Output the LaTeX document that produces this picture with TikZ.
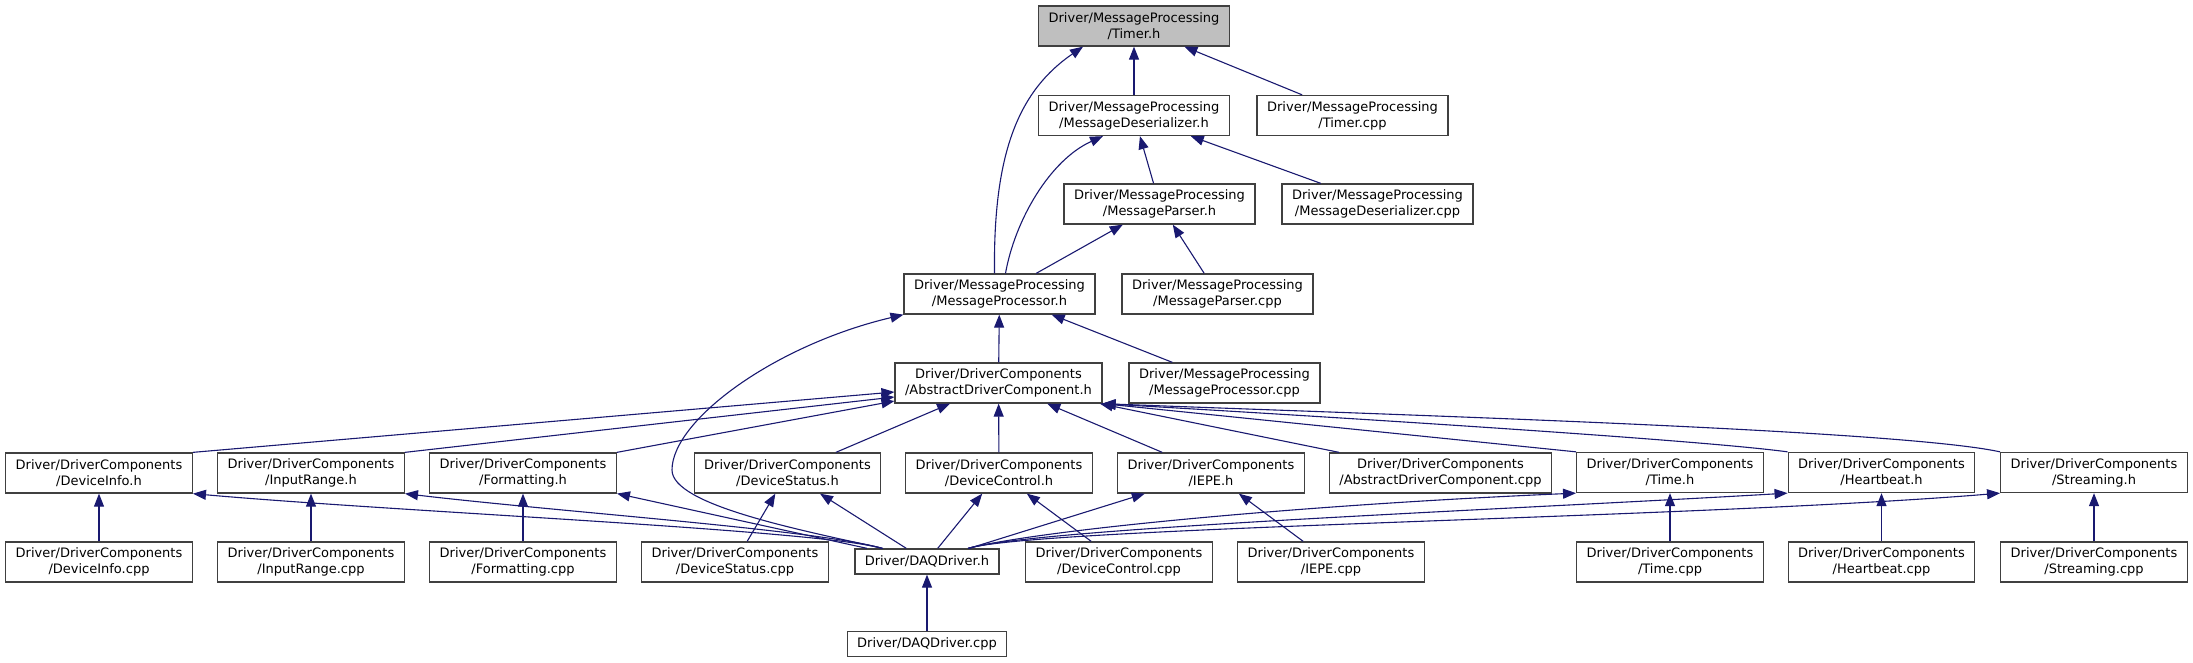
\documentclass[tikz,border=0pt]{standalone}
\usepackage{fontspec}
\setmainfont{DejaVu Sans}
\usepackage{xcolor}
\usepackage{tikz}
\usetikzlibrary{arrows.meta,calc}
\definecolor{edgeblue}{HTML}{191970}
\definecolor{curgray}{HTML}{BFBFBF}

\begin{document}
\begin{tikzpicture}[
  x=1pt, y=1pt,
  font=\fontsize{13}{16}\selectfont,
  file/.style={draw=black!75, line width=1.3pt, minimum height=40pt, inner xsep=10pt, inner ysep=2pt, align=center, fill=white},
  cur/.style={file, fill=curgray},
  flat/.style={file, minimum height=25pt},
  inc/.style={draw=edgeblue, line width=1.1pt, -{Triangle[length=13pt,width=10pt]}}
]
\useasboundingbox (0,0) rectangle (2193,-663);

% MessageProcessing
\node[cur]  (tmrh)    at (1134,-26)    {Driver/MessageProcessing\\/Timer.h};
\node[file] (desh)    at (1134,-115.5) {Driver/MessageProcessing\\/MessageDeserializer.h};
\node[file] (tmrcpp)  at (1352.5,-115.5) {Driver/MessageProcessing\\/Timer.cpp};
\node[file] (parh)    at (1159.5,-204) {Driver/MessageProcessing\\/MessageParser.h};
\node[file] (descpp)  at (1377.5,-204) {Driver/MessageProcessing\\/MessageDeserializer.cpp};
\node[file] (proch)   at (999.5,-294)  {Driver/MessageProcessing\\/MessageProcessor.h};
\node[file] (parcpp)  at (1217.5,-294) {Driver/MessageProcessing\\/MessageParser.cpp};
\node[file] (adch)    at (998.5,-383)  {Driver/DriverComponents\\/AbstractDriverComponent.h};
\node[file] (proccpp) at (1224.5,-383) {Driver/MessageProcessing\\/MessageProcessor.cpp};

% DriverComponents headers
\node[file] (infoh)  at (99,-473)     {Driver/DriverComponents\\/DeviceInfo.h};
\node[file] (rngh)   at (311,-473)    {Driver/DriverComponents\\/InputRange.h};
\node[file] (fmth)   at (523,-473)    {Driver/DriverComponents\\/Formatting.h};
\node[file] (stath)  at (787.5,-473)  {Driver/DriverComponents\\/DeviceStatus.h};
\node[file] (ctlh)   at (999,-473)    {Driver/DriverComponents\\/DeviceControl.h};
\node[file] (iepeh)  at (1211,-473)   {Driver/DriverComponents\\/IEPE.h};
\node[file] (adccpp) at (1440.5,-473) {Driver/DriverComponents\\/AbstractDriverComponent.cpp};
\node[file] (timeh)  at (1670,-472.5) {Driver/DriverComponents\\/Time.h};
\node[file] (hbh)    at (1881.5,-472.5) {Driver/DriverComponents\\/Heartbeat.h};
\node[file] (strh)   at (2094,-472.5) {Driver/DriverComponents\\/Streaming.h};

% DriverComponents sources
\node[file] (infocpp) at (99,-562)     {Driver/DriverComponents\\/DeviceInfo.cpp};
\node[file] (rngcpp)  at (311,-562)    {Driver/DriverComponents\\/InputRange.cpp};
\node[file] (fmtcpp)  at (523,-562)    {Driver/DriverComponents\\/Formatting.cpp};
\node[file] (statcpp) at (735,-562)    {Driver/DriverComponents\\/DeviceStatus.cpp};
\node[file] (ctlcpp)  at (1119,-562)   {Driver/DriverComponents\\/DeviceControl.cpp};
\node[file] (iepecpp) at (1331,-562)   {Driver/DriverComponents\\/IEPE.cpp};
\node[file] (timecpp) at (1670,-562)   {Driver/DriverComponents\\/Time.cpp};
\node[file] (hbcpp)   at (1881.5,-562) {Driver/DriverComponents\\/Heartbeat.cpp};
\node[file] (strcpp)  at (2094,-562)   {Driver/DriverComponents\\/Streaming.cpp};

% Driver
\node[flat] (daqh)   at (927,-561.5) {Driver/DAQDriver.h};
\node[flat] (daqcpp) at (927,-644)   {Driver/DAQDriver.cpp};

% includes of Timer.h
\draw[inc] (desh) -- (tmrh);
\draw[inc] (tmrcpp) -- (tmrh);
\draw[inc] ([xshift=-5pt]proch.north) .. controls (993,-150) and (1020,-90) .. ([xshift=-51pt]tmrh.south);

% includes of the message chain
\draw[inc] (parh) -- (desh);
\draw[inc] (descpp) -- (desh);
\draw[inc] ([xshift=6pt]proch.north) .. controls (1015,-220) and (1050,-160) .. ([xshift=-31pt]desh.south);
\draw[inc] (proch) -- (parh);
\draw[inc] (parcpp) -- (parh);
\draw[inc] (adch) -- (proch);
\draw[inc] (proccpp) -- (proch);
\draw[inc] ([xshift=-44pt]daqh.north) .. controls (800,-530) and (672,-505) .. (672,-470)
                                    .. controls (672,-420) and (775,-345) .. (proch.south west);

% includes of AbstractDriverComponent.h
\draw[inc] (infoh.north east) -- ([yshift=-9pt]adch.west);
\draw[inc] (rngh.north east) -- ([yshift=-14pt]adch.west);
\draw[inc] (fmth.north east) -- ([yshift=-18pt]adch.west);
\draw[inc] (stath) -- (adch);
\draw[inc] (ctlh) -- (adch);
\draw[inc] (iepeh) -- (adch);
\draw[inc] (adccpp) -- (adch);
\draw[inc] (timeh.north west) -- (adch.south east);
\draw[inc] (hbh.north west) .. controls (1700,-440) and (1350,-418) .. (adch.south east);
\draw[inc] (strh.north west) .. controls (1900,-430) and (1400,-415) .. (adch.south east);

% includes of DAQDriver.h
\draw[inc] ([xshift=-45pt]daqh.north) .. controls (820,-530) and (400,-512) .. (infoh.south east);
\draw[inc] ([xshift=-45pt]daqh.north) .. controls (820,-530) and (560,-512) .. (rngh.south east);
\draw[inc] (daqh) -- (fmth);
\draw[inc] (daqh) -- (stath);
\draw[inc] (daqh) -- (ctlh);
\draw[inc] (daqh) -- (iepeh);
\draw[inc] ([xshift=41pt]daqh.north) .. controls (1040,-530) and (1300,-505) .. (timeh.south west);
\draw[inc] ([xshift=41pt]daqh.north) .. controls (1040,-528) and (1500,-510) .. (hbh.south west);
\draw[inc] ([xshift=41pt]daqh.north) .. controls (1040,-527) and (1700,-518) .. (strh.south west);
\draw[inc] (daqcpp) -- (daqh);

% sources of the component headers
\draw[inc] (infocpp) -- (infoh);
\draw[inc] (rngcpp) -- (rngh);
\draw[inc] (fmtcpp) -- (fmth);
\draw[inc] (statcpp) -- (stath);
\draw[inc] (ctlcpp) -- (ctlh);
\draw[inc] (iepecpp) -- (iepeh);
\draw[inc] (timecpp) -- (timeh);
\draw[inc] (hbcpp) -- (hbh);
\draw[inc] (strcpp) -- (strh);
\end{tikzpicture}
\end{document}
